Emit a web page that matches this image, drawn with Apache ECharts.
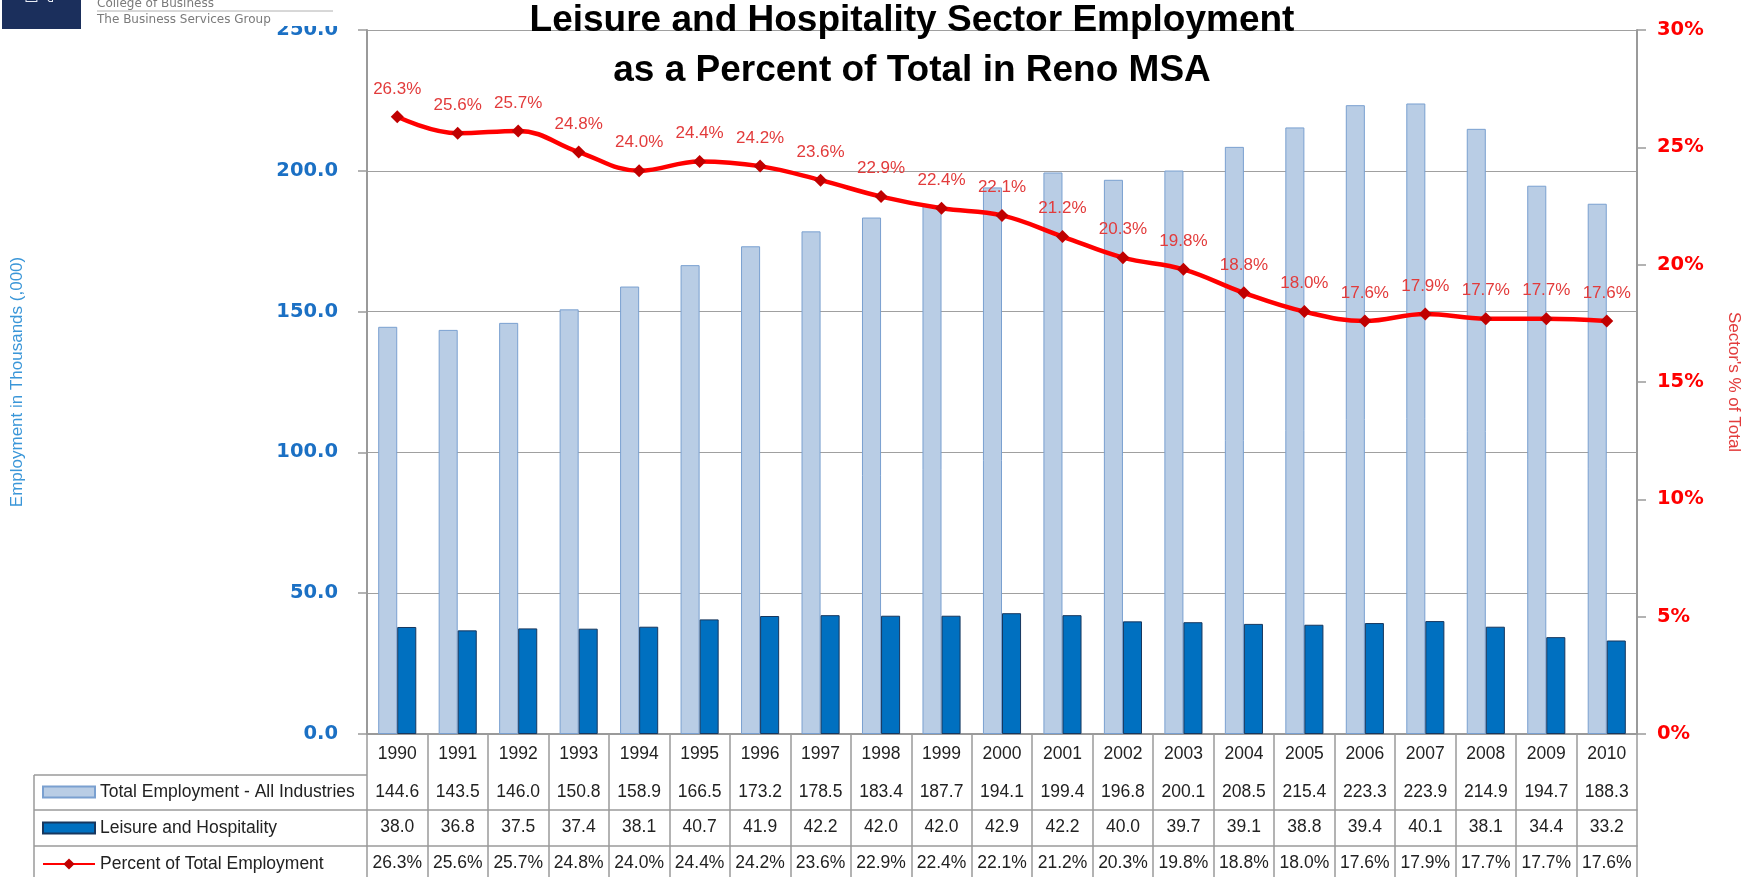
<!DOCTYPE html>
<html><head><meta charset="utf-8">
<script src="https://cdn.jsdelivr.net/npm/echarts@6/dist/echarts.min.js"></script>
<style>html,body{margin:0;padding:0;background:#fff}#c{width:1750px;height:877px}</style>
</head><body><div id="c"></div>
<script>
const years = ['1990','1991','1992','1993','1994','1995','1996','1997','1998','1999','2000','2001','2002','2003','2004','2005','2006','2007','2008','2009','2010'];
const totalEmployment = [144.6,143.5,146.0,150.8,158.9,166.5,173.2,178.5,183.4,187.7,194.1,199.4,196.8,200.1,208.5,215.4,223.3,223.9,214.9,194.7,188.3];
const leisureHospitality = [38.0,36.8,37.5,37.4,38.1,40.7,41.9,42.2,42.0,42.0,42.9,42.2,40.0,39.7,39.1,38.8,39.4,40.1,38.1,34.4,33.2];
const percentOfTotal = [26.3,25.6,25.7,24.8,24.0,24.4,24.2,23.6,22.9,22.4,22.1,21.2,20.3,19.8,18.8,18.0,17.6,17.9,17.7,17.7,17.6];
const seriesNames = ['Total Employment - All Industries','Leisure and Hospitality','Percent of Total Employment'];
const titleLines = ['Leisure and Hospitality Sector Employment','as a Percent of Total in Reno MSA'];

const chart = echarts.init(document.getElementById('c'), null, {renderer:'canvas'});
const GRID = {left:367, right:113, top:30, bottom:143};
const tableLine = {color:'#9a9a9a', width:1.5};
const cellFont = {fontFamily:'Liberation Sans, Arial, sans-serif', fontSize:17.5, color:'#222', lineHeight:18};
const rowOffsets = [41, 76, 112];
const rowData = [
  totalEmployment.map(v=>v.toFixed(1)),
  leisureHospitality.map(v=>v.toFixed(1)),
  percentOfTotal.map(v=>v.toFixed(1)+'%')
];

const xAxes = [{
  type:'category', data:years, gridIndex:0, position:'bottom',
  axisLine:{show:true, lineStyle:{color:'#9a9a9a', width:2}},
  axisTick:{show:true, interval:0, length:150, lineStyle:tableLine},
  axisLabel:Object.assign({interval:0, margin:11.5}, cellFont),
  splitLine:{show:false}
}];
rowData.forEach((row, i) => {
  xAxes.push({
    type:'category', data:years, gridIndex:0, position:'bottom', offset:rowOffsets[i],
    axisLine:{show:true, lineStyle:tableLine},
    axisTick:{show:false},
    axisLabel:Object.assign({interval:0, margin:8.5, formatter:(v, idx)=>row[idx]}, cellFont),
    splitLine:{show:false}
  });
});

const legendBase = {orient:'horizontal', left:42, padding:0, itemWidth:52,
  textStyle:{fontFamily:'Liberation Sans, Arial, sans-serif', fontSize:17.5, color:'#222', lineHeight:20},
  selectedMode:false};

const option = {
  backgroundColor:'#fff',
  animation:false,
  grid:GRID,
  legend:[
    Object.assign({}, legendBase, {top:782, data:[{name:seriesNames[0], icon:'rect'}], itemHeight:11}),
    Object.assign({}, legendBase, {top:818, data:[{name:seriesNames[1], icon:'rect'}], itemHeight:11}),
    Object.assign({}, legendBase, {top:854, data:[{name:seriesNames[2]}], itemHeight:14})
  ],
  xAxis:xAxes,
  yAxis:[{
    type:'value', min:0, max:250, interval:50,
    name:'Employment in Thousands (,000)', nameLocation:'middle', nameGap:341, nameRotate:90,
    nameTextStyle:{color:'#3a96d8', fontFamily:'Liberation Sans, Arial, sans-serif', fontSize:17},
    axisLine:{show:true, lineStyle:{color:'#9a9a9a', width:2}},
    axisTick:{show:true, length:9, lineStyle:{color:'#9a9a9a', width:1.5}},
    axisLabel:{margin:29, formatter:v=>v.toFixed(1), color:'#1b70c4', fontWeight:'bold', fontFamily:'DejaVu Sans, Verdana, sans-serif', fontSize:19.5},
    splitLine:{show:true, lineStyle:{color:'#a0a0a0', width:1.2}}
  },{
    type:'value', min:0, max:30, interval:5, position:'right',
    name:"Sector's % of Total", nameLocation:'middle', nameGap:88, nameRotate:-90,
    nameTextStyle:{color:'#e23b3b', fontFamily:'Liberation Sans, Arial, sans-serif', fontSize:17},
    axisLine:{show:true, lineStyle:{color:'#9a9a9a', width:2}},
    axisTick:{show:true, length:9, lineStyle:{color:'#9a9a9a', width:1.5}},
    axisLabel:{margin:20, formatter:v=>v+'%', color:'#ff0000', fontWeight:'bold', fontFamily:'DejaVu Sans, Verdana, sans-serif', fontSize:19.5},
    splitLine:{show:false}
  }],
  series:[{
    name:seriesNames[0], type:'bar', data:totalEmployment, xAxisIndex:0, yAxisIndex:0,
    barGap:'0%', barCategoryGap:'37%',
    itemStyle:{color:'#b9cde5', borderColor:'#7aa0d0', borderWidth:1}
  },{
    name:seriesNames[1], type:'bar', data:leisureHospitality, xAxisIndex:0, yAxisIndex:0,
    barGap:'0%', barCategoryGap:'37%',
    itemStyle:{color:'#0070c0', borderColor:'#17375e', borderWidth:1}
  },{
    name:seriesNames[2], type:'line', data:percentOfTotal, xAxisIndex:0, yAxisIndex:1,
    smooth:0.4, symbol:'diamond', symbolSize:13,
    lineStyle:{color:'#ff0000', width:4.5},
    itemStyle:{color:'#c00000'},
    label:{show:true, position:'top', distance:13, formatter:p=>p.value.toFixed(1)+'%',
      color:'#e23b3b', fontFamily:'Liberation Sans, Arial, sans-serif', fontSize:17},
    z:5
  }],
  graphic:[
    // table left column
    {type:'line', shape:{x1:34, y1:775, x2:367, y2:775}, style:{stroke:'#9a9a9a', lineWidth:1.5}},
    {type:'line', shape:{x1:34, y1:810, x2:367, y2:810}, style:{stroke:'#9a9a9a', lineWidth:1.5}},
    {type:'line', shape:{x1:34, y1:846, x2:367, y2:846}, style:{stroke:'#9a9a9a', lineWidth:1.5}},
    {type:'line', shape:{x1:34, y1:775, x2:34, y2:877}, style:{stroke:'#9a9a9a', lineWidth:1.5}},
    // title
    {type:'text', x:912, y:21, z:50, style:{text:titleLines[0], fontFamily:'Liberation Sans, Arial, sans-serif', fontWeight:'bold', fontSize:37, fill:'#000', align:'center', verticalAlign:'middle'}},
    {type:'text', x:912, y:71, z:50, style:{text:titleLines[1], fontFamily:'Liberation Sans, Arial, sans-serif', fontWeight:'bold', fontSize:37, fill:'#000', align:'center', verticalAlign:'middle'}},
    // logo area
    {type:'rect', z:100, shape:{x:260, y:0, width:95, height:26}, style:{fill:'#fff'}},
    {type:'rect', z:101, shape:{x:2, y:0, width:79, height:29}, style:{fill:'#1b2f5c'}},
    {type:'text', z:102, x:41, y:11, style:{text:'N', fontFamily:'Liberation Serif, serif', fontWeight:'bold', fontSize:42, fill:'#1b2f5c', stroke:'#e8ecf4', lineWidth:2, align:'center', verticalAlign:'bottom'}},
    {type:'text', z:102, x:97, y:4, style:{text:'College of Business', fontFamily:'DejaVu Sans, sans-serif', fontSize:12, fill:'#7a7a7a', align:'left', verticalAlign:'middle'}},
    {type:'line', z:102, shape:{x1:97, y1:11, x2:333, y2:11}, style:{stroke:'#b0b0b0', lineWidth:1}},
    {type:'text', z:102, x:97, y:19.5, style:{text:'The Business Services Group', fontFamily:'DejaVu Sans, sans-serif', fontSize:12, fill:'#7a7a7a', align:'left', verticalAlign:'middle'}}
  ]
};
chart.setOption(option);
</script></body></html>
